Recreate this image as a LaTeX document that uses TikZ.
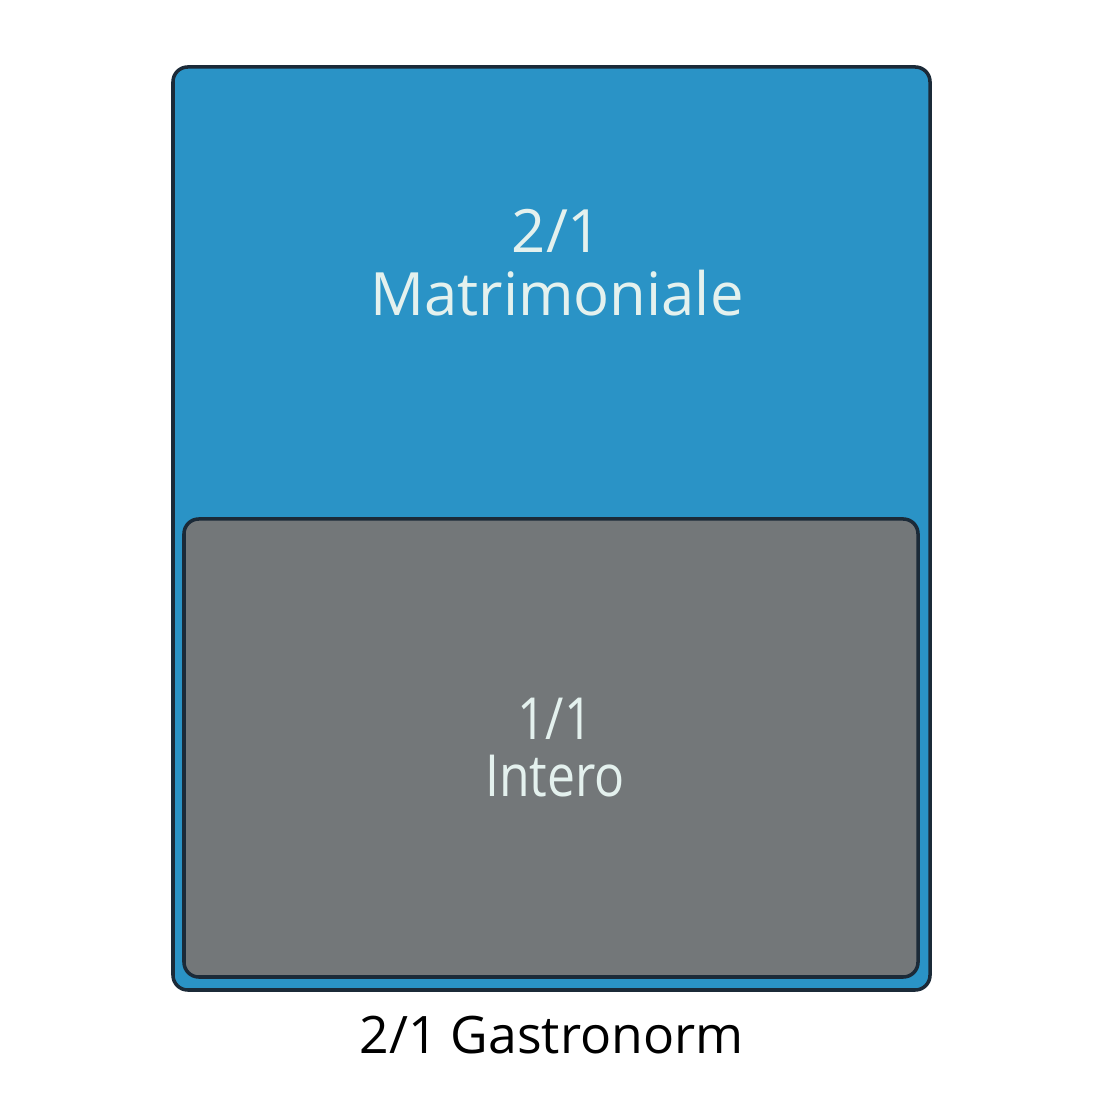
\documentclass[tikz,border=0pt]{standalone}
\usepackage{fontspec}
\setmainfont{Open Sans}
\newfontfamily\narrowsans[FakeStretch=0.86]{Open Sans}
\usetikzlibrary{positioning}
\definecolor{panblue}{HTML}{2A93C6}
\definecolor{pangrey}{HTML}{737779}
\definecolor{panedge}{HTML}{1B2A38}
\definecolor{pantext}{HTML}{E4F1EE}

\begin{document}
\begin{tikzpicture}[
    tray/.style={draw=panedge, line width=1pt, rounded corners=4.2pt, inner sep=0pt},
    panlabel/.style={text=pantext, align=center, font=\fontsize{17}{18}\selectfont}
]
            \useasboundingbox (0,0) rectangle (11,11);
            \node[tray, fill=panblue, minimum width=7.57cm, minimum height=9.23cm] (full) at (5.515,5.715) {};
            \node[tray, fill=pangrey, minimum width=7.34cm, minimum height=4.58cm] (half) at (5.51,3.52) {};
            \node[panlabel] (fulltext) at (5.57,8.37) {2/1\\Matrimoniale};
            \node[panlabel, font=\narrowsans\fontsize{16.5}{16.2}\selectfont] (halftext) at (5.55,3.52) {1/1\\Intero};
            \node[below = 0.12cm of full, font=\fontsize{14.7}{16}\selectfont] (caption) {2/1 Gastronorm};
        \end{tikzpicture}
\end{document}
